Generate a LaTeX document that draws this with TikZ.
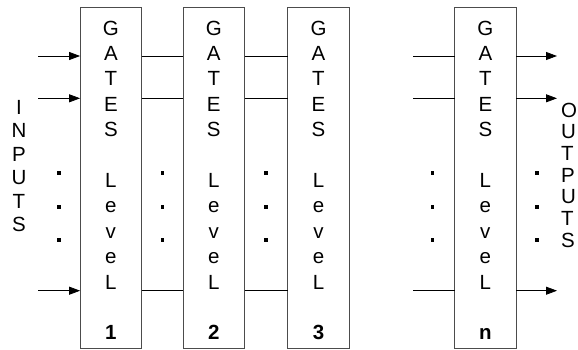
\documentclass[tikz,border=0pt]{standalone}
\usepackage{fontspec}
\setmainfont{Liberation Sans}
\usetikzlibrary{arrows.meta}
\begin{document}
\begin{tikzpicture}[x=1pt,y=-1pt,
  gbox/.style={draw=black!70,line width=1pt,minimum width=61.5pt,minimum height=341pt,inner sep=0pt,outer sep=0pt},
  conn/.style={line width=0.8pt},
  arr/.style={conn,-{Triangle[length=11pt,width=8pt]}},
  dotsq/.style={fill,rectangle,minimum size=3.5pt,inner sep=0pt},
  glyph/.style={font=\fontsize{20.5}{24}\selectfont,anchor=base,inner sep=0pt},
]
\useasboundingbox (0,0) rectangle (578,349);
% gate boxes with their vertical labels
\foreach \bx/\bn/\num in {110.85/b1/1, 213.8/b2/2, 318.5/b3/3, 485.35/bn/n}{
  \node[gbox] (\bn) at (\bx,177.5) {};
  \foreach \ch/\k in {G/0,A/1,T/2,E/3,S/4,L/6,e/7,v/8,e/9,L/10}{
    \node[glyph] (\bn-\k) at (\bx,35+25.4*\k) {\ch};
  }
  \node[glyph,font=\fontsize{20.5}{24}\selectfont\bfseries] (\bn-num) at (\bx,339.8) {\num};
}
% rows
\foreach \r/\ry in {r1/56,r2/98.3,r3/290.7}{
  \coordinate (\r) at (0,\ry);
  \coordinate (in-\r) at (38,\ry);
  \coordinate (mid-\r) at (413,\ry);
  \coordinate (out-\r) at (557,\ry);
  \draw[arr] (in-\r) -- (b1.west |- \r);
  \draw[conn] (b1.east |- \r) -- (b2.west |- \r);
  \draw[conn] (b2.east |- \r) -- (b3.west |- \r);
  \draw[conn] (mid-\r) -- (bn.west |- \r);
  \draw[arr] (bn.east |- \r) -- (out-\r);
}
% dots
\foreach \dx [count=\c] in {59,162.5,266,432.5,537}{
  \foreach \dy [count=\d] in {173,207,240}{
    \node[dotsq] (dot-\c-\d) at (\dx,\dy) {};
  }
}
% INPUTS / OUTPUTS
\foreach \ch [count=\k from 0] in {I,N,P,U,T,S}{
  \node[glyph] (inp-\k) at (19,114+23.5*\k) {\ch};
}
\foreach \ch [count=\k from 0] in {O,U,T,P,U,T,S}{
  \node[glyph,anchor=base west] (outp-\k) at (561,117+21.7*\k) {\ch};
}
\end{tikzpicture}
\end{document}
